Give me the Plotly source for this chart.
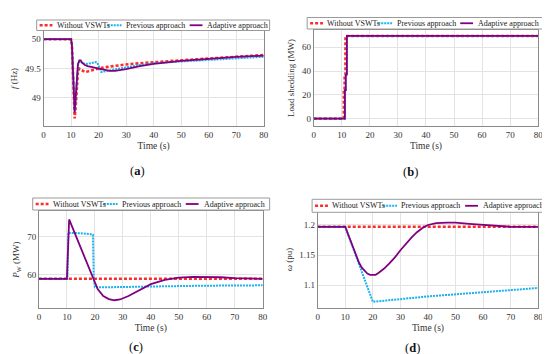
import plotly.graph_objects as go

# ---------------- data ----------------
series_names = ["Without VSWTs", "Previous approach", "Adaptive approach"]

# (a) frequency (Hz)
fa_red_t = [0, 10, 10.3, 10.7, 11, 11.3, 11.6, 12, 12.5, 13, 14, 15, 16, 18, 20, 22, 25, 30, 35, 40, 50, 60, 70, 80]
fa_red_y = [50, 50, 49.9, 49.3, 48.8, 48.65, 48.8, 49.2, 49.45, 49.5, 49.47, 49.44, 49.45, 49.48, 49.5, 49.52, 49.54, 49.57, 49.59, 49.61, 49.64, 49.67, 49.7, 49.73]
fa_prev_t = [0, 10, 10.3, 10.7, 11, 11.3, 11.6, 12, 12.5, 13, 13.5, 14, 15, 16, 17, 18, 19, 19.5, 20, 20.5, 21, 22, 23, 25, 30, 35, 40, 50, 60, 70, 80]
fa_prev_y = [50, 50, 49.9, 49.4, 48.9, 48.78, 48.95, 49.3, 49.55, 49.62, 49.62, 49.6, 49.58, 49.58, 49.59, 49.6, 49.61, 49.6, 49.55, 49.47, 49.44, 49.45, 49.46, 49.48, 49.52, 49.56, 49.59, 49.62, 49.65, 49.68, 49.7]
fa_adap_t = [0, 10, 10.3, 10.7, 11, 11.3, 11.6, 12, 12.5, 13, 13.5, 14, 15, 16, 17, 18, 20, 22, 24, 26, 28, 30, 35, 40, 50, 60, 70, 80]
fa_adap_y = [50, 50, 49.9, 49.35, 48.85, 48.75, 48.95, 49.35, 49.58, 49.64, 49.64, 49.6, 49.56, 49.54, 49.53, 49.52, 49.5, 49.47, 49.46, 49.46, 49.47, 49.49, 49.54, 49.58, 49.63, 49.67, 49.7, 49.72]

# (b) load shedding (MW)
lb_red_t = [0, 10.7, 10.7, 11.0, 11.0, 11.3, 11.3, 80]
lb_red_y = [0, 0, 24, 24, 37, 37, 69.5, 69.5]
lb_prev_t = [0, 11.1, 11.1, 11.4, 11.4, 11.8, 11.8, 80]
lb_prev_y = [0, 0, 24, 24, 37, 37, 69.5, 69.5]
lb_adap_t = [0, 11.1, 11.1, 11.4, 11.4, 11.8, 11.8, 80]
lb_adap_y = [0, 0, 24, 24, 37, 37, 69.5, 69.5]

# (c) wind power P_W (MW)
pc_red_t = [0, 20, 40, 60, 80]
pc_red_y = [59, 59, 59, 59, 59]
pc_prev_t = [0, 10.2, 10.5, 12, 15, 18, 19.3, 19.6, 20, 25, 30, 40, 50, 60, 70, 80]
pc_prev_y = [59, 59, 71, 71, 70.9, 70.7, 70.5, 59, 56.8, 56.8, 56.9, 57, 57.1, 57.2, 57.3, 57.3]
pc_adap_t = [0, 10, 10.8, 15, 19.5, 21, 23, 25, 27, 29, 32, 35, 40, 45, 50, 55, 60, 65, 70, 75, 80]
pc_adap_y = [59, 59, 74.5, 67, 59, 56.3, 54.5, 53.7, 53.4, 53.6, 54.5, 55.7, 57.6, 58.7, 59.3, 59.5, 59.5, 59.4, 59.2, 59.1, 59.0]

# (d) rotor speed omega (pu)
wd_red_t = [0, 20, 40, 60, 80]
wd_red_y = [1.197, 1.197, 1.197, 1.197, 1.197]
wd_prev_t = [0, 10, 20, 40, 60, 80]
wd_prev_y = [1.197, 1.197, 1.072, 1.081, 1.088, 1.095]
wd_adap_t = [0, 10, 11, 12, 13, 14, 15, 16, 17, 18, 19, 20, 21, 22, 24, 26, 28, 30, 32, 34, 36, 38, 40, 43, 47, 50, 55, 60, 65, 70, 80]
wd_adap_y = [1.197, 1.197, 1.1845, 1.172, 1.16, 1.148, 1.137, 1.129, 1.123, 1.119, 1.117, 1.1165, 1.117, 1.12, 1.127, 1.136, 1.146, 1.158, 1.169, 1.179, 1.188, 1.195, 1.2, 1.203, 1.204, 1.204, 1.202, 1.2, 1.198, 1.197, 1.197]

x_ticks = [0, 10, 20, 30, 40, 50, 60, 70, 80]
ya_ticks = [49, 49.5, 50]
yb_ticks = [0, 20, 40, 60]
yc_ticks = [60, 70]
yd_ticks = [1.1, 1.15, 1.2]

# ---------------- styles ----------------
W, H = 550, 354
FONT = "Liberation Serif"
RED, CYAN, PURPLE = "#ff2a2a", "#1ab2ee", "#800080"
styles = [
    dict(color=RED, width=2.6, dash="3px,2px"),
    dict(color=CYAN, width=2.0, dash="2px,1px"),
    dict(color=PURPLE, width=1.8, dash="solid"),
]

def px(x):
    return x / W

def py(y):
    return 1 - y / H

fig = go.Figure()

panels = [
    ("", [(fa_red_t, fa_red_y), (fa_prev_t, fa_prev_y), (fa_adap_t, fa_adap_y)]),
    ("2", [(lb_red_t, lb_red_y), (lb_prev_t, lb_prev_y), (lb_adap_t, lb_adap_y)]),
    ("3", [(pc_red_t, pc_red_y), (pc_prev_t, pc_prev_y), (pc_adap_t, pc_adap_y)]),
    ("4", [(wd_red_t, wd_red_y), (wd_prev_t, wd_prev_y), (wd_adap_t, wd_adap_y)]),
]
for suf, data in panels:
    for i, (t, y) in enumerate(data):
        fig.add_trace(go.Scatter(x=t, y=y, mode="lines", name=series_names[i],
                                 line=styles[i], showlegend=False,
                                 xaxis="x" + suf, yaxis="y" + suf))

# plot areas in px: (left, right, top, bottom)
areas = [
    (34, 257, 23, 118),
    (307.7, 535, 22, 118),
    (29.3, 256, 203, 300.3),
    (311.7, 535, 203, 300),
]
yranges = [[48.52, 50.14], [-6.2, 74.5], [51.3, 76.7], [1.0617, 1.2233]]
yticks = [ya_ticks, yb_ticks, yc_ticks, yd_ticks]
ytitles = ["<i>f</i> (Hz)", "Load shedding (MW)", "<i>P</i><sub>W</sub> (MW)", "<i>ω</i> (pu)"]

axcommon = dict(showline=True, mirror=True, linecolor="#8a8a8a", linewidth=1,
                gridcolor="#e3e3e3", zeroline=False, ticks="",
                tickfont=dict(family=FONT, size=9, color="#333"))
layout = {}
for k, (l, r, t, b) in enumerate(areas):
    suf = "" if k == 0 else str(k + 1)
    layout["xaxis" + suf] = dict(axcommon, domain=[px(l), px(r)], range=[0, 80],
                                 tickvals=x_ticks, anchor="y" + suf,
                                 title=dict(text="Time (s)", font=dict(family=FONT, size=9.5, color="#333"), standoff=3))
    layout["yaxis" + suf] = dict(axcommon, domain=[py(b), py(t)], range=yranges[k],
                                 tickvals=yticks[k], anchor="x" + suf,
                                 title=dict(text=ytitles[k], font=dict(family=FONT, size=9, color="#333"), standoff=5))

# manual legends: (left, right, top, bottom) in px
legends = [
    (27, 263, 12, 22.5),
    (301, 540, 9.5, 21),
    (23, 263, 190, 202),
    (306, 541.5, 191.3, 204.3),
]
shapes = []
annotations = []
item_off = [(3, 16, 18.5), (72, 86, 88.5), (155, 168, 171)]
for (l, r, t, b) in legends:
    shapes.append(dict(type="rect", xref="paper", yref="paper", x0=px(l), x1=px(r), y0=py(b), y1=py(t),
                       line=dict(color="#9a9a9a", width=1), fillcolor="white", layer="above"))
    ym = (t + b) / 2
    for i, (s0, s1, tx) in enumerate(item_off):
        shapes.append(dict(type="line", xref="paper", yref="paper", x0=px(l + s0), x1=px(l + s1),
                           y0=py(ym), y1=py(ym), line=styles[i], layer="above"))
        annotations.append(dict(text=series_names[i], xref="paper", yref="paper", x=px(l + tx), y=py(ym),
                                xanchor="left", yanchor="middle", showarrow=False,
                                font=dict(family=FONT, size=8, color="#222")))

# panel labels
for lab, (x, y) in zip(["a", "b", "c", "d"], [(129, 163), (406, 164), (128, 339), (408, 340)]):
    annotations.append(dict(text="(<b>%s</b>)" % lab, xref="paper", yref="paper", x=px(x), y=py(y),
                            xanchor="center", yanchor="middle", showarrow=False,
                            font=dict(family=FONT, size=12.5, color="#111")))

fig.update_layout(**layout)
fig.update_layout(width=W, height=H, margin=dict(l=0, r=0, t=0, b=0),
                  paper_bgcolor="white", plot_bgcolor="white",
                  shapes=shapes, annotations=annotations, showlegend=False)

fig.write_html("out.html")
